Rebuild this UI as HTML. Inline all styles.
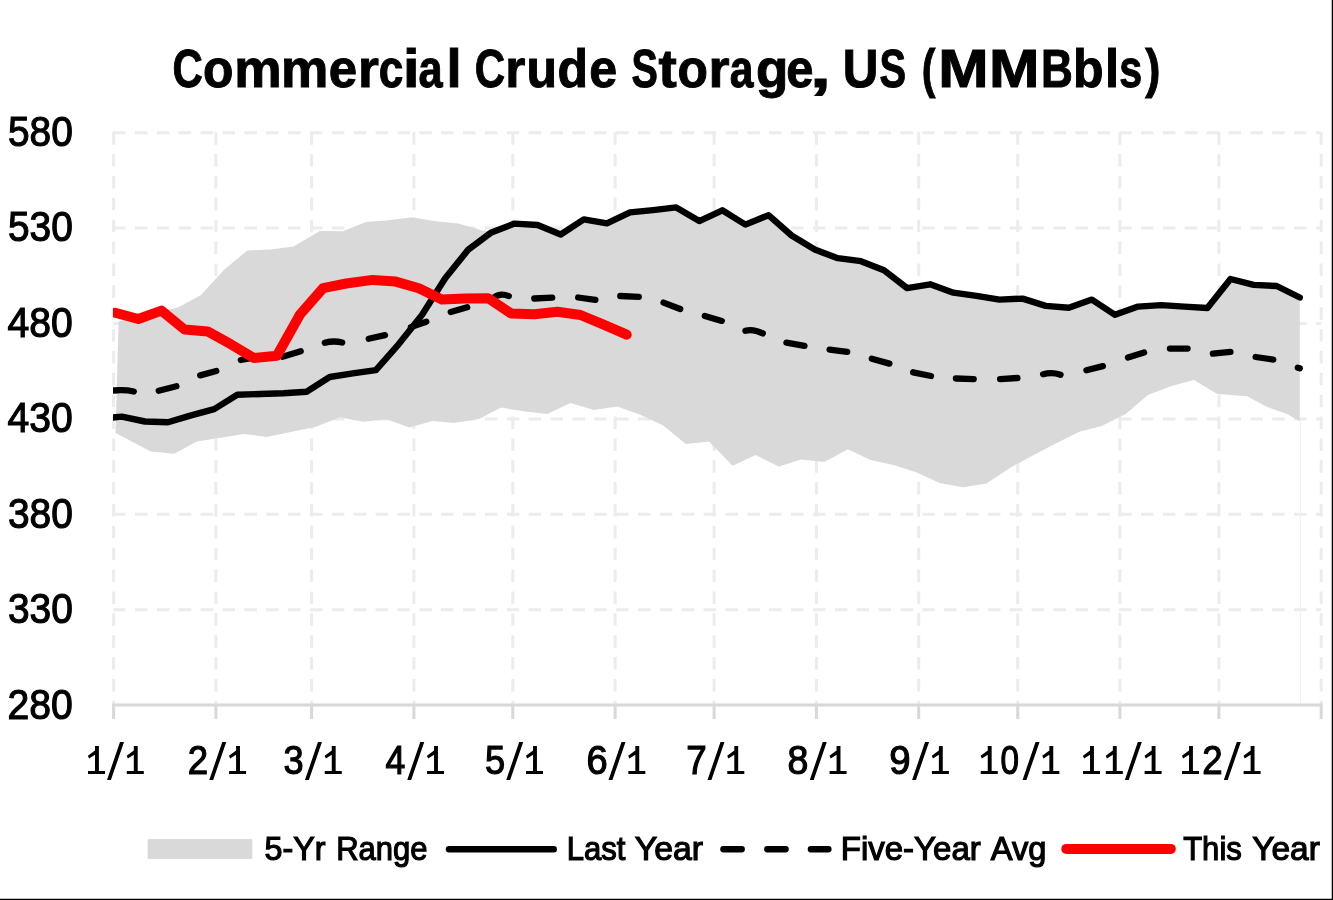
<!DOCTYPE html>
<html><head><meta charset="utf-8"><title>Commercial Crude Storage, US (MMBbls)</title>
<style>html,body{margin:0;padding:0;background:#fff;width:1333px;height:900px;overflow:hidden;font-family:"Liberation Sans",sans-serif}</style>
</head><body>
<svg width="1333" height="900" viewBox="0 0 1333 900" style="position:absolute;left:0;top:0">
<defs><clipPath id="pc"><rect x="113" y="120" width="1210" height="586.5"/></clipPath></defs>
<path d="M113.1 132.65 H1321.2 M113.1 228.07 H1321.2 M113.1 323.48 H1321.2 M113.1 418.90 H1321.2 M113.1 514.32 H1321.2 M113.1 609.73 H1321.2 M113.6 132.2 V704.9 M215.9 132.2 V704.9 M311.6 132.2 V704.9 M413.9 132.2 V704.9 M512.8 132.2 V704.9 M615.1 132.2 V704.9 M714.1 132.2 V704.9 M816.4 132.2 V704.9 M918.7 132.2 V704.9 M1017.7 132.2 V704.9 M1119.9 132.2 V704.9 M1218.9 132.2 V704.9 M1321.2 132.2 V704.9" fill="none" stroke="#ececec" stroke-width="3" stroke-dasharray="12.5 9.37"/>
<path d="M118.6 321.8 L131.7 317.3 L154.8 312.7 L177.9 307.4 L201.0 295.0 L224.1 269.8 L247.2 250.5 L270.3 249.4 L293.4 246.5 L319.8 230.9 L342.9 231.3 L366.0 221.9 L389.1 220.2 L412.2 217.3 L435.3 221.3 L458.4 223.4 L481.5 230.3 L493.0 231.8 L514.5 223.6 L537.6 225.0 L560.7 234.5 L583.8 219.4 L606.9 223.4 L630.0 212.4 L653.1 210.1 L676.2 207.4 L699.3 221.1 L722.3 210.3 L745.4 224.6 L768.5 215.2 L791.6 235.5 L814.7 249.6 L837.8 258.2 L860.9 261.2 L884.0 270.2 L907.1 288.1 L930.2 284.3 L953.3 292.7 L976.4 295.8 L999.5 299.6 L1022.6 298.6 L1045.7 305.9 L1068.8 307.8 L1091.9 299.6 L1115.0 314.8 L1138.1 306.6 L1161.2 305.1 L1184.3 306.6 L1207.4 308.0 L1230.5 279.0 L1253.6 284.9 L1276.7 286.0 L1299.8 297.5 L1299.8 421.3 L1287.0 414.1 L1266.7 406.7 L1247.0 396.3 L1217.2 394.0 L1194.0 380.1 L1171.6 386.1 L1147.9 395.1 L1125.4 414.3 L1101.8 426.0 L1079.3 431.8 L1056.8 443.1 L1034.3 454.8 L1010.6 467.6 L986.5 483.6 L962.9 487.2 L939.7 483.0 L916.1 472.2 L893.6 465.0 L870.4 459.9 L847.9 449.3 L824.5 462.1 L801.3 459.4 L778.8 466.6 L755.6 454.9 L732.6 465.7 L709.0 441.6 L685.8 444.1 L662.9 425.2 L639.7 414.4 L617.2 406.5 L594.0 409.9 L570.4 403.1 L547.4 413.9 L524.9 411.5 L501.3 407.6 L478.8 418.9 L454.0 423.0 L432.6 421.1 L409.0 427.5 L400.0 424.1 L385.8 419.3 L363.3 421.8 L339.7 417.3 L316.0 426.8 L266.5 436.9 L244.0 434.0 L196.8 441.4 L174.3 453.8 L150.6 451.5 L115.5 433.1 Z" fill="#d9d9d9"/>
<path d="M1300.4 421 V703.4" stroke="#f1f1f1" stroke-width="1" fill="none"/>
<path d="M112.1 704.9 H1322.7 M113.6 703.9 V718.9 M215.9 703.9 V718.9 M311.6 703.9 V718.9 M413.9 703.9 V718.9 M512.8 703.9 V718.9 M615.1 703.9 V718.9 M714.1 703.9 V718.9 M816.4 703.9 V718.9 M918.7 703.9 V718.9 M1017.7 703.9 V718.9 M1119.9 703.9 V718.9 M1218.9 703.9 V718.9 M1321.2 703.9 V718.9" fill="none" stroke="#d8d8d8" stroke-width="3"/>
<g clip-path="url(#pc)" fill="none" stroke-linecap="round" stroke-linejoin="round">
<path d="M98.8 418.8 L121.8 416.6 L144.9 421.5 L168.0 422.3 L191.1 415.4 L214.2 409.1 L237.3 394.8 L260.4 394.0 L283.5 393.3 L306.6 391.7 L329.7 377.0 L352.8 373.4 L375.9 370.2 L399.0 343.8 L422.1 314.8 L445.2 278.2 L468.3 249.6 L491.4 232.4 L514.5 223.6 L537.6 225.0 L560.7 234.5 L583.8 219.4 L606.9 223.4 L630.0 212.4 L653.1 210.1 L676.2 207.4 L699.3 221.1 L722.3 210.3 L745.4 224.6 L768.5 215.2 L791.6 235.5 L814.7 249.6 L837.8 258.2 L860.9 261.2 L884.0 270.2 L907.1 288.1 L930.2 284.3 L953.3 292.7 L976.4 295.8 L999.5 299.6 L1022.6 298.6 L1045.7 305.9 L1068.8 307.8 L1091.9 299.6 L1115.0 314.8 L1138.1 306.6 L1161.2 305.1 L1184.3 306.6 L1207.4 308.0 L1230.5 279.0 L1253.6 284.9 L1276.7 286.0 L1299.8 297.5" stroke="#000" stroke-width="6.4"/>
<path d="M113.1 390.5 Q125.0 389.4 133.8 391.5 M158.7 390.7 L176.4 386.3 M200.2 375.4 L216.3 371.0 M240.8 360.0 L253.9 357.6 M282.5 356.7 L300.7 351.2 M324.8 342.8 Q333.5 340.4 342.2 342.5 M368.7 338.8 L385.0 335.1 M410.9 327.1 L426.3 321.7 M450.7 312.0 L467.2 307.3 M493.1 298.1 Q500.0 292.5 508.8 296.1 M534.3 298.5 L552.2 297.6 M578.2 297.5 L595.4 299.9 M620.3 296.0 L638.8 296.9 M663.5 302.6 L680.2 309.0 M704.8 315.9 L721.8 320.9 M745.4 330.8 Q753.0 328.5 762.8 333.4 M786.4 342.6 L804.5 345.9 M829.6 349.6 L847.2 351.8 M871.8 358.7 L889.4 363.6 M913.1 372.3 L931.0 376.0 M955.9 378.5 L973.7 379.1 M1000.1 379.1 L1017.4 378.0 M1043.1 374.2 Q1052.0 371.9 1060.5 374.7 M1086.4 370.3 L1102.9 366.1 M1128.0 357.6 L1144.1 352.6 M1169.9 348.6 L1187.6 348.6 M1212.9 353.7 L1230.4 351.9 M1255.6 357.0 L1273.3 359.6 M1297.8 367.7 L1299.8 368.3" stroke="#000" stroke-width="6.3"/>
<path d="M115.2 312.7 L138.3 319.0 L161.4 310.6 L184.5 329.5 L207.6 331.4 L230.7 344.2 L253.8 358.0 L276.9 355.7 L300.0 314.5 L323.1 288.1 L346.2 283.5 L372.6 279.9 L395.7 281.6 L418.8 288.3 L441.9 299.6 L465.0 298.4 L488.1 298.2 L511.2 313.5 L534.3 314.3 L557.4 311.8 L580.5 315.0 L603.6 324.6 L626.7 334.7" stroke="#ff0000" stroke-width="10"/>
</g>
<rect x="147.6" y="839.1" width="104.7" height="19.8" fill="#d9d9d9"/>
<path d="M449 849.25 H553.8" stroke="#000" stroke-width="6.4" stroke-linecap="round" fill="none"/>
<path d="M723.35 849.25 H741.75 M767.25 849.25 H785.65 M810.85 849.25 H828.45" stroke="#000" stroke-width="6.3" stroke-linecap="round" fill="none"/>
<path d="M1066.3 848.9 H1170.8" stroke="#ff0000" stroke-width="10" stroke-linecap="round" fill="none"/>
<path d="M0 899.35 H1333 M1332.4 0 V900" stroke="#000" stroke-width="1.3" fill="none"/>
<g font-family="'Liberation Sans', sans-serif" fill="#000" opacity="0.999">
<text transform="translate(172.52 87.30) scale(0.7865 1)" font-size="53.40" font-weight="bold" stroke="#000" stroke-width="1.00">C</text>
<text transform="translate(203.11 87.30) scale(0.9328 1)" font-size="53.40" font-weight="bold" stroke="#000" stroke-width="1.00">o</text>
<text transform="translate(234.17 87.30) scale(0.9979 1)" font-size="53.40" font-weight="bold" stroke="#000" stroke-width="1.00">m</text>
<text transform="translate(281.07 87.30) scale(0.9979 1)" font-size="53.40" font-weight="bold" stroke="#000" stroke-width="1.00">m</text>
<text transform="translate(328.76 87.30) scale(0.9558 1)" font-size="53.40" font-weight="bold" stroke="#000" stroke-width="1.00">e</text>
<text transform="translate(357.94 87.30) scale(1.0050 1)" font-size="53.40" font-weight="bold" stroke="#000" stroke-width="1.00">r</text>
<text transform="translate(378.73 87.30) scale(0.8293 1)" font-size="53.40" font-weight="bold" stroke="#000" stroke-width="1.00">c</text>
<text transform="translate(402.95 87.30) scale(1.1102 1)" font-size="53.40" font-weight="bold" stroke="#000" stroke-width="1.00">i</text>
<text transform="translate(418.60 87.30) scale(0.8127 1)" font-size="53.40" font-weight="bold" stroke="#000" stroke-width="1.00">a</text>
<text transform="translate(446.40 87.30) scale(1.0166 1)" font-size="53.40" font-weight="bold" stroke="#000" stroke-width="1.00">l</text>
<text transform="translate(474.71 87.30) scale(0.7894 1)" font-size="53.40" font-weight="bold" stroke="#000" stroke-width="1.00">C</text>
<text transform="translate(505.28 87.30) scale(0.9675 1)" font-size="53.40" font-weight="bold" stroke="#000" stroke-width="1.00">r</text>
<text transform="translate(526.40 87.30) scale(0.9363 1)" font-size="53.40" font-weight="bold" stroke="#000" stroke-width="1.00">u</text>
<text transform="translate(557.40 87.30) scale(0.9363 1)" font-size="53.40" font-weight="bold" stroke="#000" stroke-width="1.00">d</text>
<text transform="translate(589.19 87.30) scale(0.9402 1)" font-size="53.40" font-weight="bold" stroke="#000" stroke-width="1.00">e</text>
<text transform="translate(631.51 87.30) scale(0.7397 1)" font-size="53.40" font-weight="bold" stroke="#000" stroke-width="1.00">S</text>
<text transform="translate(658.45 87.30) scale(1.0269 1)" font-size="53.40" font-weight="bold" stroke="#000" stroke-width="1.00">t</text>
<text transform="translate(677.41 87.30) scale(0.9328 1)" font-size="53.40" font-weight="bold" stroke="#000" stroke-width="1.00">o</text>
<text transform="translate(708.42 87.30) scale(1.0112 1)" font-size="53.40" font-weight="bold" stroke="#000" stroke-width="1.00">r</text>
<text transform="translate(729.82 87.30) scale(0.7985 1)" font-size="53.40" font-weight="bold" stroke="#000" stroke-width="1.00">a</text>
<text transform="translate(755.98 87.30) scale(0.9925 1)" font-size="53.40" font-weight="bold" stroke="#000" stroke-width="1.00">g</text>
<text transform="translate(786.24 87.30) scale(0.9168 1)" font-size="53.40" font-weight="bold" stroke="#000" stroke-width="1.00">e</text>
<text transform="translate(810.10 87.30) scale(1.4179 1)" font-size="53.40" font-weight="bold" stroke="#000" stroke-width="1.00">,</text>
<text transform="translate(842.64 87.30) scale(0.9238 1)" font-size="53.40" font-weight="bold" stroke="#000" stroke-width="1.00">U</text>
<text transform="translate(879.40 87.30) scale(0.7459 1)" font-size="53.40" font-weight="bold" stroke="#000" stroke-width="1.00">S</text>
<text transform="translate(921.75 87.30) scale(0.7691 1)" font-size="53.40" font-weight="bold" stroke="#000" stroke-width="1.00">(</text>
<text transform="translate(938.37 87.30) scale(1.1316 1)" font-size="53.40" font-weight="bold" stroke="#000" stroke-width="1.00">M</text>
<text transform="translate(989.06 87.30) scale(1.1343 1)" font-size="53.40" font-weight="bold" stroke="#000" stroke-width="1.00">M</text>
<text transform="translate(1040.91 87.30) scale(0.8258 1)" font-size="53.40" font-weight="bold" stroke="#000" stroke-width="1.00">B</text>
<text transform="translate(1073.10 87.30) scale(0.9363 1)" font-size="53.40" font-weight="bold" stroke="#000" stroke-width="1.00">b</text>
<text transform="translate(1105.05 87.30) scale(0.9497 1)" font-size="53.40" font-weight="bold" stroke="#000" stroke-width="1.00">l</text>
<text transform="translate(1119.35 87.30) scale(0.7730 1)" font-size="53.40" font-weight="bold" stroke="#000" stroke-width="1.00">s</text>
<text transform="translate(1145.20 87.30) scale(0.8561 1)" font-size="53.40" font-weight="bold" stroke="#000" stroke-width="1.00">)</text>
<text transform="translate(7.92 146.00) scale(0.9260 1)" font-size="42.00" font-weight="normal" stroke="#000" stroke-width="1.20">580</text>
<text transform="translate(7.92 241.42) scale(0.9260 1)" font-size="42.00" font-weight="normal" stroke="#000" stroke-width="1.20">530</text>
<text transform="translate(7.60 336.83) scale(0.9308 1)" font-size="42.00" font-weight="normal" stroke="#000" stroke-width="1.20">480</text>
<text transform="translate(7.60 432.25) scale(0.9308 1)" font-size="42.00" font-weight="normal" stroke="#000" stroke-width="1.20">430</text>
<text transform="translate(7.92 527.67) scale(0.9260 1)" font-size="42.00" font-weight="normal" stroke="#000" stroke-width="1.20">380</text>
<text transform="translate(7.92 623.08) scale(0.9260 1)" font-size="42.00" font-weight="normal" stroke="#000" stroke-width="1.20">330</text>
<text transform="translate(7.52 718.50) scale(0.9319 1)" font-size="42.00" font-weight="normal" stroke="#000" stroke-width="1.20">280</text>
<text transform="translate(264.49 859.60) scale(0.9793 1)" font-size="33.00" font-weight="normal" stroke="#000" stroke-width="1.20">5-Yr</text>
<text transform="translate(336.20 859.60) scale(0.9407 1)" font-size="33.00" font-weight="normal" stroke="#000" stroke-width="1.20">Range</text>
<text transform="translate(566.69 859.60) scale(0.9418 1)" font-size="33.00" font-weight="normal" stroke="#000" stroke-width="1.20">Last</text>
<text transform="translate(634.77 859.60) scale(1.0235 1)" font-size="33.00" font-weight="normal" stroke="#000" stroke-width="1.20">Year</text>
<text transform="translate(840.74 859.60) scale(1.0007 1)" font-size="33.00" font-weight="normal" stroke="#000" stroke-width="1.20">Five-Year</text>
<text transform="translate(990.78 859.60) scale(0.9893 1)" font-size="33.00" font-weight="normal" stroke="#000" stroke-width="1.20">Avg</text>
<text transform="translate(1183.16 859.60) scale(0.9412 1)" font-size="33.00" font-weight="normal" stroke="#000" stroke-width="1.20">This</text>
<text transform="translate(1252.28 859.60) scale(1.0128 1)" font-size="33.00" font-weight="normal" stroke="#000" stroke-width="1.20">Year</text>
<text transform="translate(187.73 773.90) scale(0.9062 1)" font-size="40.40" font-weight="normal" stroke="#000" stroke-width="1.20">2</text>
<text transform="translate(283.60 774.40) scale(0.8974 1)" font-size="40.40" font-weight="normal" stroke="#000" stroke-width="1.20">3</text>
<text transform="translate(385.62 773.90) scale(0.8804 1)" font-size="40.40" font-weight="normal" stroke="#000" stroke-width="1.20">4</text>
<text transform="translate(485.06 774.40) scale(0.8974 1)" font-size="40.40" font-weight="normal" stroke="#000" stroke-width="1.20">5</text>
<text transform="translate(586.59 774.40) scale(0.9438 1)" font-size="40.40" font-weight="normal" stroke="#000" stroke-width="1.20">6</text>
<text transform="translate(686.24 773.90) scale(0.9115 1)" font-size="40.40" font-weight="normal" stroke="#000" stroke-width="1.20">7</text>
<text transform="translate(787.56 774.40) scale(0.9290 1)" font-size="40.40" font-weight="normal" stroke="#000" stroke-width="1.20">8</text>
<text transform="translate(889.23 773.90) scale(0.9492 1)" font-size="40.40" font-weight="normal" stroke="#000" stroke-width="1.20">9</text>
<text transform="translate(1000.60 774.40) scale(0.8220 1)" font-size="40.40" font-weight="normal" stroke="#000" stroke-width="1.20">0</text>
<text transform="translate(1202.27 773.90) scale(0.9062 1)" font-size="40.40" font-weight="normal" stroke="#000" stroke-width="1.20">2</text>
<path d="M107.00 779.90 L110.90 779.90 L124.00 742.00 L120.00 742.00 z M133.80 745.90 h3.9 v25.1 h6.1 v2.9 h-17 v-2.9 h7 v-16.2 l-5.9 3.7 l-1.2 -2.7 l7.1 -5.2 z M95.00 745.90 h3.9 v25.1 h6.1 v2.9 h-17 v-2.9 h7 v-16.2 l-5.9 3.7 l-1.2 -2.7 l7.1 -5.2 z M209.28 779.90 L213.18 779.90 L226.28 742.00 L222.28 742.00 z M236.08 745.90 h3.9 v25.1 h6.1 v2.9 h-17 v-2.9 h7 v-16.2 l-5.9 3.7 l-1.2 -2.7 l7.1 -5.2 z M304.97 779.90 L308.87 779.90 L321.97 742.00 L317.97 742.00 z M331.77 745.90 h3.9 v25.1 h6.1 v2.9 h-17 v-2.9 h7 v-16.2 l-5.9 3.7 l-1.2 -2.7 l7.1 -5.2 z M407.25 779.90 L411.15 779.90 L424.25 742.00 L420.25 742.00 z M434.05 745.90 h3.9 v25.1 h6.1 v2.9 h-17 v-2.9 h7 v-16.2 l-5.9 3.7 l-1.2 -2.7 l7.1 -5.2 z M506.23 779.90 L510.13 779.90 L523.23 742.00 L519.23 742.00 z M533.03 745.90 h3.9 v25.1 h6.1 v2.9 h-17 v-2.9 h7 v-16.2 l-5.9 3.7 l-1.2 -2.7 l7.1 -5.2 z M608.52 779.90 L612.42 779.90 L625.52 742.00 L621.52 742.00 z M635.32 745.90 h3.9 v25.1 h6.1 v2.9 h-17 v-2.9 h7 v-16.2 l-5.9 3.7 l-1.2 -2.7 l7.1 -5.2 z M707.50 779.90 L711.40 779.90 L724.50 742.00 L720.50 742.00 z M734.30 745.90 h3.9 v25.1 h6.1 v2.9 h-17 v-2.9 h7 v-16.2 l-5.9 3.7 l-1.2 -2.7 l7.1 -5.2 z M809.78 779.90 L813.68 779.90 L826.78 742.00 L822.78 742.00 z M836.58 745.90 h3.9 v25.1 h6.1 v2.9 h-17 v-2.9 h7 v-16.2 l-5.9 3.7 l-1.2 -2.7 l7.1 -5.2 z M912.07 779.90 L915.97 779.90 L929.07 742.00 L925.07 742.00 z M938.87 745.90 h3.9 v25.1 h6.1 v2.9 h-17 v-2.9 h7 v-16.2 l-5.9 3.7 l-1.2 -2.7 l7.1 -5.2 z M1022.55 779.90 L1026.45 779.90 L1039.55 742.00 L1035.55 742.00 z M1049.35 745.90 h3.9 v25.1 h6.1 v2.9 h-17 v-2.9 h7 v-16.2 l-5.9 3.7 l-1.2 -2.7 l7.1 -5.2 z M987.75 745.90 h3.9 v25.1 h6.1 v2.9 h-17 v-2.9 h7 v-16.2 l-5.9 3.7 l-1.2 -2.7 l7.1 -5.2 z M1124.83 779.90 L1128.73 779.90 L1141.83 742.00 L1137.83 742.00 z M1151.63 745.90 h3.9 v25.1 h6.1 v2.9 h-17 v-2.9 h7 v-16.2 l-5.9 3.7 l-1.2 -2.7 l7.1 -5.2 z M1112.83 745.90 h3.9 v25.1 h6.1 v2.9 h-17 v-2.9 h7 v-16.2 l-5.9 3.7 l-1.2 -2.7 l7.1 -5.2 z M1090.03 745.90 h3.9 v25.1 h6.1 v2.9 h-17 v-2.9 h7 v-16.2 l-5.9 3.7 l-1.2 -2.7 l7.1 -5.2 z M1223.82 779.90 L1227.72 779.90 L1240.82 742.00 L1236.82 742.00 z M1250.62 745.90 h3.9 v25.1 h6.1 v2.9 h-17 v-2.9 h7 v-16.2 l-5.9 3.7 l-1.2 -2.7 l7.1 -5.2 z M1189.02 745.90 h3.9 v25.1 h6.1 v2.9 h-17 v-2.9 h7 v-16.2 l-5.9 3.7 l-1.2 -2.7 l7.1 -5.2 z"/>
</g>
</svg>
</body></html>
